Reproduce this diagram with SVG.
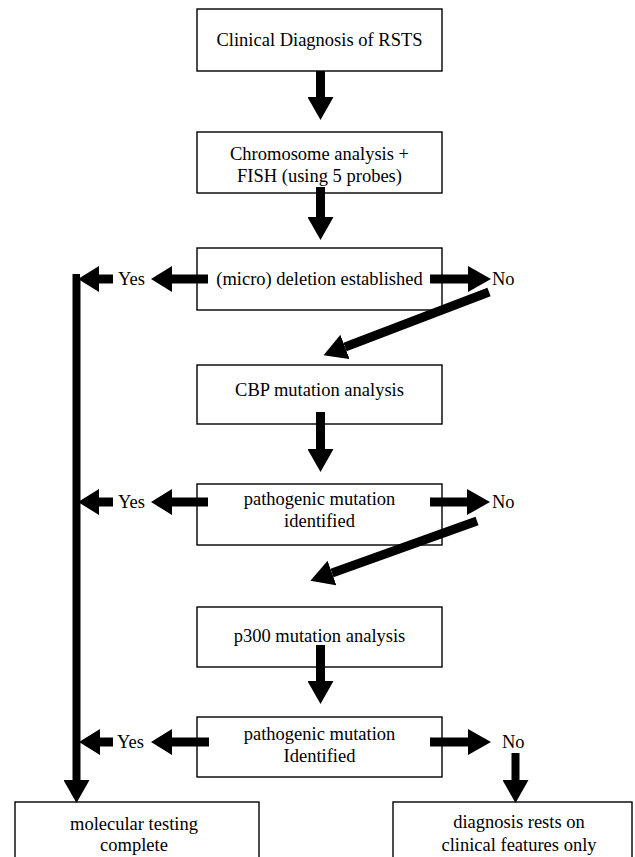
<svg xmlns="http://www.w3.org/2000/svg" width="635" height="857" viewBox="0 0 635 857">
<style>
.box{fill:#fff;stroke:#000;stroke-width:1.4}
.t{font-family:"Liberation Serif","Times New Roman",serif;font-size:18.5px;fill:#000}
.c{text-anchor:middle}
.sh{stroke:#000;stroke-width:9;fill:none}
.sh2{stroke:#000;stroke-width:8;fill:none}
</style>
<defs>
<marker id="ah" markerUnits="userSpaceOnUse" markerWidth="23" markerHeight="26" viewBox="0 0 23 26" refX="0" refY="13" orient="auto"><path d="M0,0 L23,13 L0,26 z" fill="#000"/></marker>
<marker id="ahs" markerUnits="userSpaceOnUse" markerWidth="21" markerHeight="26" viewBox="0 0 21 26" refX="0" refY="13" orient="auto"><path d="M0,0 L21,13 L0,26 z" fill="#000"/></marker>
</defs>
<rect width="635" height="857" fill="#fff"/>
<g id="n1"><rect class="box" x="197" y="9" width="245" height="62"/><text class="t c" x="319.5" y="46">Clinical Diagnosis of RSTS</text></g>
<g id="n2"><rect class="box" x="197" y="132" width="245" height="61"/><text class="t c" x="319.5" y="160">Chromosome analysis +</text><text class="t c" x="319.5" y="182">FISH (using 5 probes)</text></g>
<g id="n3"><rect class="box" x="197" y="248" width="245" height="62"/><text class="t c" x="319.5" y="285">(micro) deletion established</text></g>
<g id="n4"><rect class="box" x="197" y="365" width="245" height="59"/><text class="t c" x="319.5" y="396">CBP mutation analysis</text></g>
<g id="n5"><rect class="box" x="197" y="484" width="245" height="61"/><text class="t c" x="319.5" y="505">pathogenic mutation</text><text class="t c" x="319.5" y="527">identified</text></g>
<g id="n6"><rect class="box" x="197" y="607" width="245" height="60"/><text class="t c" x="319.5" y="642">p300 mutation analysis</text></g>
<g id="n7"><rect class="box" x="197" y="717" width="245" height="60"/><text class="t c" x="319.5" y="740">pathogenic mutation</text><text class="t c" x="319.5" y="762">Identified</text></g>
<g id="n8"><rect class="box" x="15" y="802" width="244" height="70"/><text class="t c" x="134" y="830">molecular testing</text><text class="t c" x="134" y="851">complete</text></g>
<g id="n9"><rect class="box" x="393" y="802" width="239" height="70"/><text class="t c" x="519" y="828">diagnosis rests on</text><text class="t c" x="519" y="851">clinical features only</text></g>
<g id="labels">
<text class="t" x="118" y="285">Yes</text><text class="t" x="492" y="285">No</text>
<text class="t" x="118" y="508">Yes</text><text class="t" x="492" y="508">No</text>
<text class="t" x="117" y="748">Yes</text><text class="t" x="502" y="748">No</text>
</g>
<g id="connectors">
<line class="sh" x1="320.5" y1="71" x2="320.5" y2="97" marker-end="url(#ah)"/>
<line class="sh" x1="320.5" y1="187" x2="320.5" y2="217" marker-end="url(#ah)"/>
<line class="sh" x1="320.5" y1="412" x2="320.5" y2="449" marker-end="url(#ah)"/>
<line class="sh" x1="320.5" y1="645" x2="320.5" y2="681" marker-end="url(#ah)"/>
<line class="sh" x1="208" y1="279" x2="172" y2="279" marker-end="url(#ahs)"/>
<line class="sh" x1="113" y1="279" x2="99" y2="279" marker-end="url(#ahs)"/>
<line class="sh" x1="430" y1="279" x2="468" y2="279" marker-end="url(#ah)"/>
<line class="sh" x1="208" y1="502" x2="172" y2="502" marker-end="url(#ahs)"/>
<line class="sh" x1="113" y1="502" x2="99" y2="502" marker-end="url(#ahs)"/>
<line class="sh" x1="430" y1="502" x2="467" y2="502" marker-end="url(#ah)"/>
<line class="sh" x1="209" y1="742" x2="172" y2="742" marker-end="url(#ahs)"/>
<line class="sh" x1="113" y1="742" x2="100" y2="742" marker-end="url(#ahs)"/>
<line class="sh" x1="430" y1="742" x2="468" y2="742" marker-end="url(#ah)"/>
<line class="sh" x1="489" y1="292" x2="345" y2="347" marker-end="url(#ah)"/>
<line class="sh" x1="477" y1="521" x2="332" y2="573" marker-end="url(#ah)"/>
<polyline class="sh2" points="80,278 76.5,278 76.5,780" marker-end="url(#ah)"/>
<line class="sh2" x1="515.5" y1="753" x2="515.5" y2="780" marker-end="url(#ah)"/>
</g>
</svg>
